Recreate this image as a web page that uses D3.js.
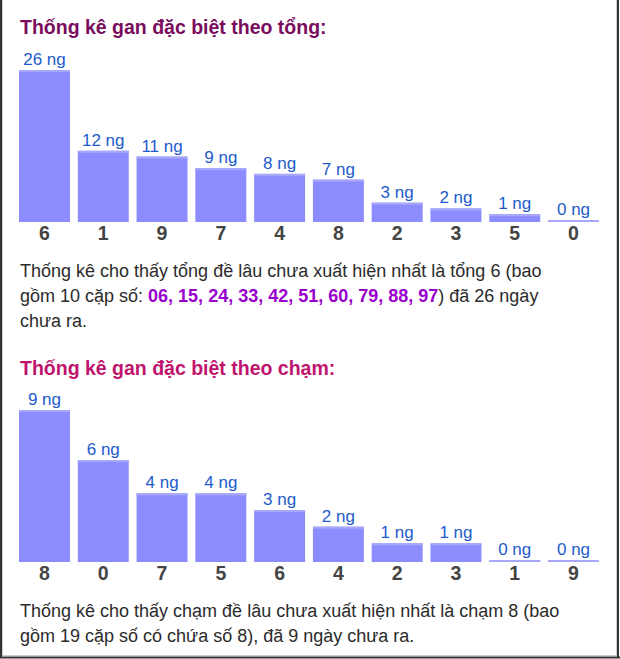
<!DOCTYPE html>
<html>
<head>
<meta charset="utf-8">
<script src="https://cdn.jsdelivr.net/npm/d3@7/dist/d3.min.js"></script>
<style>
html,body{margin:0;padding:0;background:#fff;}
svg{display:block;font-family:"Liberation Sans",Arial,sans-serif;}
</style>
</head>
<body>
<svg id="chart" width="620" height="659"></svg>
<script>
// ---- data ----
const title1 = "Thống kê gan đặc biệt theo tổng:";
const cats1 = ["6","1","9","7","4","8","2","3","5","0"];
const vals1 = [26,12,11,9,8,7,3,2,1,0];
const title2 = "Thống kê gan đặc biệt theo chạm:";
const cats2 = ["8","0","7","5","6","4","2","3","1","9"];
const vals2 = [9,6,4,4,3,2,1,1,0,0];
const unit = " ng";
const para1 = [
  [{t:"Thống kê cho thấy tổng đề lâu chưa xuất hiện nhất là tổng 6 (bao"}],
  [{t:"gồm 10 cặp số: "},{t:"06, 15, 24, 33, 42, 51, 60, 79, 88, 97",b:true},{t:") đã 26 ngày"}],
  [{t:"chưa ra."}]
];
const para2 = [
  [{t:"Thống kê cho thấy chạm đề lâu chưa xuất hiện nhất là chạm 8 (bao"}],
  [{t:"gồm 19 cặp số có chứa số 8), đã 9 ngày chưa ra."}]
];

const svg = d3.select("#chart");

// border
svg.append("line").attr("x1",1).attr("y1",0).attr("x2",1).attr("y2",658).attr("stroke","#333").attr("stroke-width",2);
svg.append("line").attr("x1",618).attr("y1",0).attr("x2",618).attr("y2",658).attr("stroke","#333").attr("stroke-width",2);
svg.append("line").attr("x1",0).attr("y1",657.5).attr("x2",620).attr("y2",657.5).attr("stroke","#333").attr("stroke-width",2);
svg.append("line").attr("x1",2.5).attr("y1",0).attr("x2",2.5).attr("y2",656).attr("stroke","#ccc").attr("stroke-width",1);
svg.append("line").attr("x1",616.5).attr("y1",0).attr("x2",616.5).attr("y2",656).attr("stroke","#ccc").attr("stroke-width",1);
svg.append("line").attr("x1",2).attr("y1",655.5).attr("x2",617).attr("y2",655.5).attr("stroke","#ccc").attr("stroke-width",1);

function drawBlock(cfg){
  const g = svg.append("g");
  g.append("text").attr("x",20).attr("y",cfg.titleY)
    .attr("font-size",19.5).attr("font-weight","bold").attr("fill",cfg.titleColor)
    .text(cfg.title);
  const x = d3.scaleBand().domain(cfg.cats).range([15.1,602.9]).paddingInner(0.133).paddingOuter(0.0665);
  const h = d3.scaleLinear().domain([0,d3.max(cfg.vals)]).range([2,152]);
  const data = cfg.cats.map((c,i)=>({c, v:cfg.vals[i]}));
  const base = cfg.baseY;
  const bars = g.selectAll("g.bar").data(data).enter().append("g");
  bars.append("rect").attr("x",d=>x(d.c)).attr("width",x.bandwidth())
    .attr("y",d=>base-h(d.v)).attr("height",d=>h(d.v)).attr("fill","#8c8cff");
  bars.append("rect").attr("x",d=>x(d.c)).attr("width",x.bandwidth())
    .attr("y",d=>base-h(d.v)).attr("height",2).attr("fill","#a8a8fb");
  bars.append("text").attr("x",d=>x(d.c)+x.bandwidth()/2).attr("y",d=>base-h(d.v)-5)
    .attr("text-anchor","middle").attr("font-size",17).attr("fill","#1d5bcc")
    .text(d=>d.v+unit);
  bars.append("text").attr("x",d=>x(d.c)+x.bandwidth()/2).attr("y",base+18)
    .attr("text-anchor","middle").attr("font-size",19.5).attr("font-weight","bold").attr("fill","#444")
    .text(d=>d.c);
  cfg.para.forEach((line,i)=>{
    const t = g.append("text").attr("x",20).attr("y",cfg.paraY+i*25).attr("font-size",18).attr("fill","#2b2b2b");
    line.forEach(s=>{
      const ts = t.append("tspan").text(s.t);
      if(s.b){ ts.attr("font-weight","bold").attr("fill","#9900cc"); }
    });
  });
}

drawBlock({title:title1,titleY:34,titleColor:"#7a0c5e",cats:cats1,vals:vals1,baseY:222,para:para1,paraY:277});
drawBlock({title:title2,titleY:375,titleColor:"#c0136e",cats:cats2,vals:vals2,baseY:562,para:para2,paraY:617});
</script>
</body>
</html>
